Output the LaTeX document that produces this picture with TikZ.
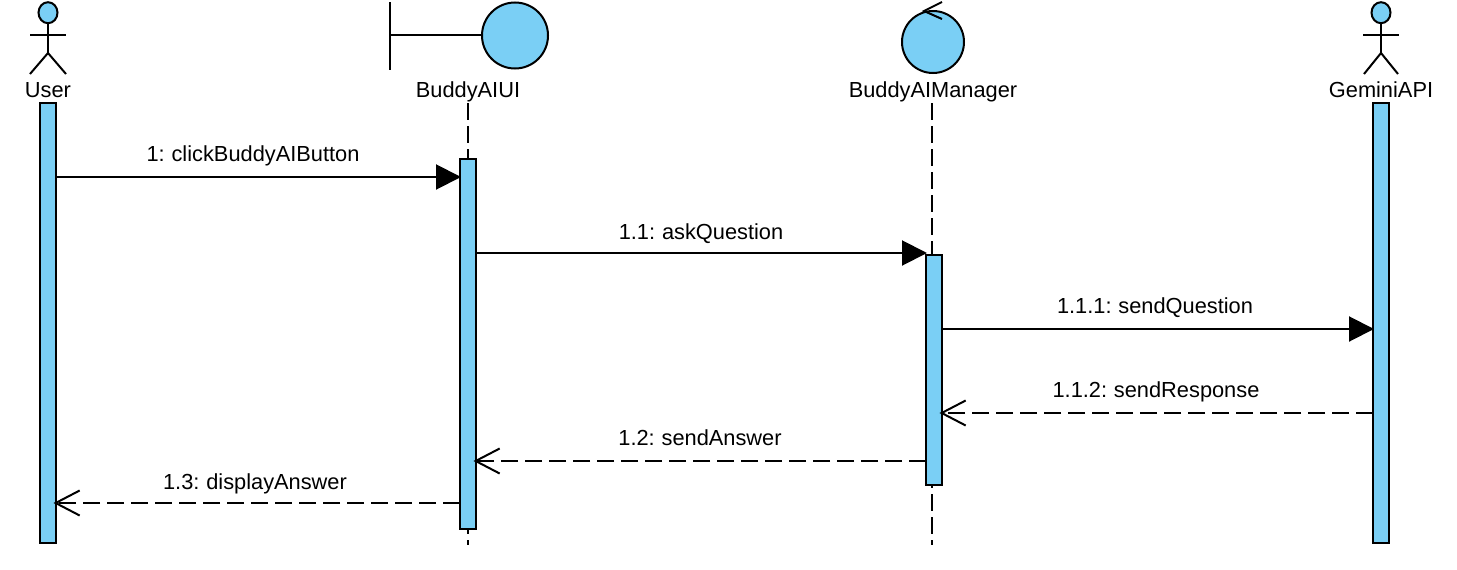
\documentclass[tikz,border=0pt]{standalone}
\usepackage{fontspec}
\setmainfont[WordSpace=0.8]{Liberation Sans}
\usetikzlibrary{arrows.meta,calc,shapes.geometric}
\definecolor{lane}{HTML}{7ACFF5}
\tikzset{
  base/.style={line width=2pt,draw=black,line cap=butt},
  bar/.style={base,fill=lane,rectangle,minimum width=16pt,inner sep=0pt,outer sep=0pt},
  headshape/.style={base,fill=lane,ellipse,inner sep=0pt,outer sep=0pt},
  limb/.style={line width=2pt,draw=black},
  label/.style={font=\fontsize{21.8}{26}\selectfont,text=black,inner sep=0pt,anchor=base},
  lifeline/.style={line width=2pt,draw=black,dash pattern=on 17pt off 6pt},
  call/.style={line width=2pt,draw=black,shorten >=-1pt,-{Triangle[length=25pt,width=25pt]}},
  reply/.style={line width=2pt,draw=black,shorten >=-2.5pt,dash pattern=on 17pt off 7pt,-{Straight Barb[length=24pt,width=25pt,line width=2pt]}}
}
\begin{document}
\begin{tikzpicture}[x=1pt,y=-1pt]
\useasboundingbox (0,0) rectangle (1457,570);

% lifelines (behind the bars)
\coordinate (uitop) at (468,103);
\coordinate (uiend) at (468,545);
\coordinate (mgtop) at (932,103);
\coordinate (mgend) at (932,545);
\draw[lifeline] (uitop) -- (uiend);
\draw[lifeline] (mgtop) -- (mgend);

% activation bars
\node[bar,minimum height=440pt] (userbar) at (48,323) {};
\node[bar,minimum height=370pt] (uibar) at (468,344) {};
\node[bar,minimum height=230pt] (mgbar) at (934,370) {};
\node[bar,minimum height=440pt] (gmbar) at (1381,323) {};

% User actor
\node[headshape,minimum width=19pt,minimum height=21pt] (uhead) at (48,12.7) {};
\coordinate (uhip) at (48,53);
\coordinate (ularm) at (30,35);
\coordinate (urarm) at (66,35);
\coordinate (ulleg) at (30,74);
\coordinate (urleg) at (66,74);
\draw[limb] (uhead.south) -- (uhip);
\draw[limb] (ularm) -- (urarm);
\draw[limb] (ulleg) -- (uhip) -- (urleg);

% Boundary
\coordinate (btop) at (390,2);
\coordinate (bbot) at (390,70);
\coordinate (bmid) at (390,35);
\node[headshape,minimum width=66pt,minimum height=66pt] (bcirc) at (515,35.5) {};
\draw[limb] (btop) -- (bbot);
\draw[limb] (bmid) -- (bcirc.west |- bmid);

% Control
\node[headshape,minimum width=62pt,minimum height=62pt] (ctrl) at (933,42) {};
\coordinate (ctip) at (924,11);
\coordinate (cup) at (942,2);
\coordinate (cdn) at (942,19);
\draw[limb] (cup) -- (ctip) -- (cdn);

% Gemini actor
\node[headshape,minimum width=19pt,minimum height=21pt] (ghead) at (1381,12.7) {};
\coordinate (ghip) at (1381,53);
\coordinate (glarm) at (1363,35);
\coordinate (grarm) at (1399,35);
\coordinate (glleg) at (1364,74);
\coordinate (grleg) at (1398,74);
\draw[limb] (ghead.south) -- (ghip);
\draw[limb] (glarm) -- (grarm);
\draw[limb] (glleg) -- (ghip) -- (grleg);

% Names
\node[label] (nuser) at (48,97) {User};
\node[label] (nui) at (468,97) {BuddyAIUI};
\node[label] (nmg) at (933,97) {BuddyAIManager};
\node[label] (ngm) at (1381,97) {GeminiAPI};

% Messages
\coordinate (m1) at (0,177);
\coordinate (m2) at (0,253);
\coordinate (m3) at (0,329);
\coordinate (m4) at (0,413);
\coordinate (m5) at (0,461);
\coordinate (m6) at (0,503);
\draw[call] (userbar.east |- m1) -- (uibar.west |- m1);
\draw[call] (uibar.east |- m2) -- (mgbar.west |- m2);
\draw[call] (mgbar.east |- m3) -- (gmbar.west |- m3);
\draw[reply] (gmbar.west |- m4) -- (mgbar.east |- m4);
\draw[reply] (mgbar.west |- m5) -- (uibar.east |- m5);
\draw[reply] (uibar.west |- m6) -- (userbar.east |- m6);

\node[label] (l1) at (253,161) {1: clickBuddyAIButton};
\node[label] (l2) at (701,239) {1.1: askQuestion};
\node[label] (l3) at (1155,313) {1.1.1: sendQuestion};
\node[label] (l4) at (1156,397) {1.1.2: sendResponse};
\node[label] (l5) at (700,445) {1.2: sendAnswer};
\node[label] (l6) at (255,489) {1.3: displayAnswer};
\end{tikzpicture}
\end{document}
